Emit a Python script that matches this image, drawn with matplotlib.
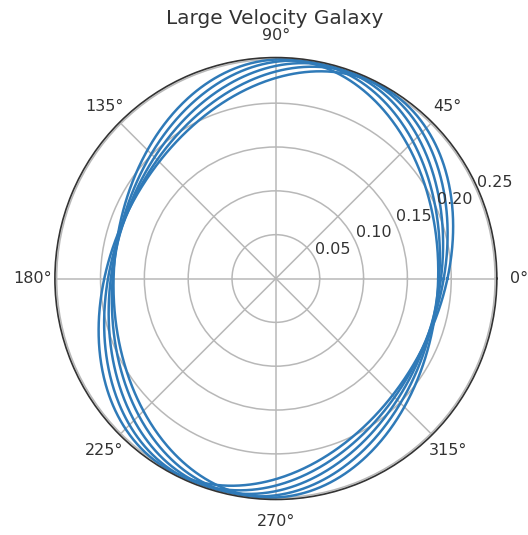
import numpy as np
import matplotlib
matplotlib.use("Agg")
import matplotlib.pyplot as plt
from matplotlib.transforms import ScaledTranslation

# Orbit ellipses (centred on the origin): semi-major, semi-minor, tilt of major axis (deg)
semi_major = [0.25, 0.25, 0.25, 0.25, 0.25]
semi_minor = [0.185, 0.185, 0.185, 0.185, 0.185]
tilt_deg = [87, 80.5, 74, 67.5, 61]

theta_ticks_deg = [0, 45, 90, 135, 180, 225, 270, 315]
theta_labels = ["0°", "45°", "90°", "135°", "180°", "225°", "270°", "315°"]
radial_ticks = [0.05, 0.10, 0.15, 0.20, 0.25]
radial_labels = ["0.05", "0.10", "0.15", "0.20", "0.25"]
title = "Large Velocity Galaxy"

text_color = "#333333"

fig = plt.figure(figsize=(5.28, 5.35), dpi=100)
ax = fig.add_axes([0.104, 0.0664, 0.837, 0.826], projection="polar")

theta = np.linspace(0, 2 * np.pi, 721)
for a, b, t in zip(semi_major, semi_minor, tilt_deg):
    phi = theta - np.deg2rad(t)
    r = a * b / np.sqrt((b * np.cos(phi)) ** 2 + (a * np.sin(phi)) ** 2)
    ax.plot(theta, r, color="#2f7ab8", linewidth=1.8)

ax.set_ylim(0, 0.252)
ax.set_yticks(radial_ticks)
ax.set_yticklabels([])

# radial labels along the 22.5 degree ray
lift = ax.transData + ScaledTranslation(-0.01, 0.045, fig.dpi_scale_trans)
for rv, lab in zip(radial_ticks, radial_labels):
    ax.text(np.deg2rad(22.5), rv, lab, transform=lift, ha="left", va="bottom",
            fontsize=11.5, color=text_color, clip_on=False)

# angular labels centred on a ring just outside the frame
ax.set_xticks(np.deg2rad(theta_ticks_deg))
ax.set_xticklabels([])
for ang, lab in zip(theta_ticks_deg, theta_labels):
    rad = np.deg2rad(ang)
    ax.text(0.5 + 0.55 * np.cos(rad), 0.5 + 0.55 * np.sin(rad), lab,
            transform=ax.transAxes, ha="center", va="center",
            fontsize=11.5, color=text_color, clip_on=False)

ax.grid(True, color="#b8b8b8", linewidth=1.1)
ax.spines["polar"].set_color("#333333")
ax.spines["polar"].set_linewidth(1.2)

fig.text(0.52, 0.966, title, fontsize=14.4, color=text_color,
         ha="center", va="center")

fig.savefig("out.png", dpi=100)
